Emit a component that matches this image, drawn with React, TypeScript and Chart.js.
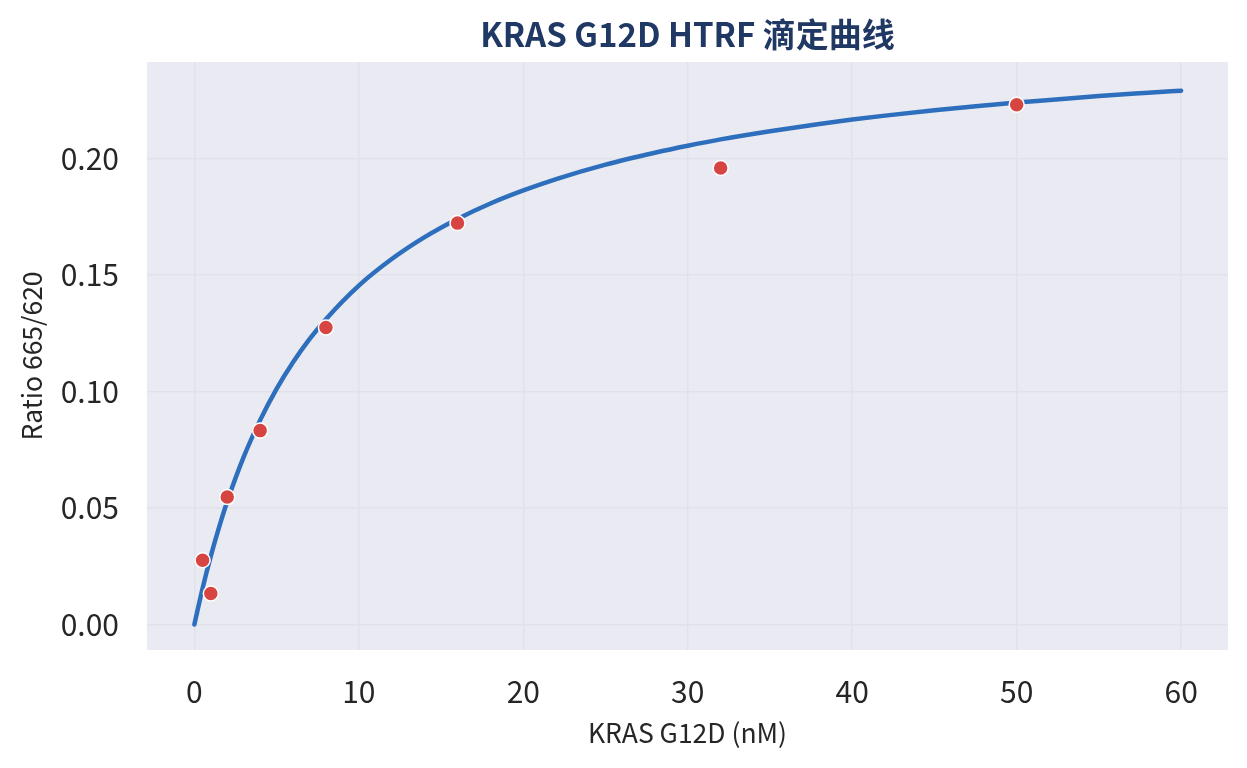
import React, { useEffect, useRef } from "react";
import { Chart, registerables } from "chart.js";

Chart.register(...registerables);

const FONT = '"Noto Sans CJK SC", "Noto Sans", sans-serif';

const chartTitle = "KRAS G12D HTRF 滴定曲线";
const xLabel = "KRAS G12D (nM)";
const yLabel = "Ratio 665/620";

// measured points
const pointX = [0.5, 1, 2, 4, 8, 16, 32, 50];
const pointY = [0.0276, 0.0133, 0.0547, 0.0832, 0.1274, 0.1722, 0.1958, 0.223];

// fitted curve
const curveX = [0, 0.5, 1, 1.5, 2, 3, 4, 5, 6, 7, 8, 10, 12, 14, 16, 18, 20, 22, 25, 28, 30, 32, 35, 38, 40, 42, 45, 48, 50, 52, 55, 58, 60];
const curveY = [0, 0.0156, 0.0294, 0.0417, 0.0528, 0.0719, 0.0877, 0.1011, 0.1125, 0.1224, 0.131, 0.1454, 0.1568, 0.1662, 0.174, 0.1806, 0.1862, 0.1911, 0.1973, 0.2024, 0.2054, 0.2081, 0.2116, 0.2147, 0.2166, 0.2183, 0.2206, 0.2226, 0.2239, 0.225, 0.2267, 0.2281, 0.229];

const xTicks = [0, 10, 20, 30, 40, 50, 60];
const yTicks = [0, 0.05, 0.1, 0.15, 0.2];

const plotBg = {
  id: "plotBg",
  beforeDraw: (chart: any) => {
    const { ctx, chartArea } = chart;
    ctx.save();
    ctx.fillStyle = "#EAEAF2";
    ctx.fillRect(chartArea.left, chartArea.top, chartArea.right - chartArea.left, chartArea.bottom - chartArea.top);
    ctx.restore();
  }
};

const centeredTitle = {
  id: "centeredTitle",
  afterDraw: (chart: any) => {
    const { ctx, chartArea } = chart;
    ctx.save();
    ctx.font = `bold 33px ${FONT}`;
    ctx.fillStyle = "#1F3864";
    ctx.textAlign = "center";
    ctx.textBaseline = "middle";
    ctx.fillText(chartTitle, (chartArea.left + chartArea.right) / 2, 26);
    ctx.restore();
  }
};

export default function App() {
  const chartRef = useRef<HTMLCanvasElement>(null);

  useEffect(() => {
    const chartInstance = new Chart(chartRef.current as HTMLCanvasElement, {
      type: "scatter",
      data: {
        datasets: [
          {
            label: "data",
            data: pointX.map((x, i) => ({ x, y: pointY[i] })),
            backgroundColor: "#D64541",
            borderColor: "#FFFFFF",
            borderWidth: 1.5,
            pointRadius: 7.5,
            order: 0
          },
          {
            label: "fit",
            data: curveX.map((x, i) => ({ x, y: curveY[i] })),
            showLine: true,
            borderColor: "#2E6FBD",
            borderWidth: 4.5,
            pointRadius: 0,
            cubicInterpolationMode: "monotone",
            borderCapStyle: "round",
            order: 1
          } as any
        ]
      },
      options: {
        animation: false,
        responsive: true,
        maintainAspectRatio: false,
        layout: { padding: { top: 54, right: 11, left: 0, bottom: 0 } },
        plugins: {
          legend: { display: false },
          tooltip: { enabled: false }
        },
        scales: {
          x: {
            type: "linear",
            min: -2.88,
            max: 62.85,
            afterBuildTicks: (axis: any) => {
              axis.ticks = xTicks.map((value) => ({ value }));
            },
            afterFit: (axis: any) => {
              axis.height = 110;
            },
            grid: { color: "#E1E1EA", lineWidth: 1.5, drawTicks: false },
            border: { display: false },
            ticks: {
              padding: 24,
              color: "#262626",
              font: { family: FONT, size: 30 }
            },
            title: {
              display: true,
              text: xLabel,
              color: "#262626",
              font: { family: FONT, size: 26.5 },
              padding: { top: 0, bottom: 11 }
            }
          },
          y: {
            type: "linear",
            min: -0.0109,
            max: 0.2413,
            afterBuildTicks: (axis: any) => {
              axis.ticks = yTicks.map((value) => ({ value }));
            },
            afterFit: (axis: any) => {
              axis.width = 139;
            },
            grid: { color: "#E1E1EA", lineWidth: 1.5, drawTicks: false },
            border: { display: false },
            ticks: {
              padding: 28,
              color: "#262626",
              font: { family: FONT, size: 30 },
              callback: (value: any) => Number(value).toFixed(2)
            },
            title: {
              display: true,
              text: yLabel,
              color: "#262626",
              font: { family: FONT, size: 26.5 },
              padding: { top: 8, bottom: 0 }
            }
          }
        }
      },
      plugins: [plotBg, centeredTitle]
    });

    return () => {
      chartInstance.destroy();
    };
  }, []);

  return (
    <div style={{ width: 1231, height: 752, position: "relative" }}>
      <canvas ref={chartRef} />
    </div>
  );
}
